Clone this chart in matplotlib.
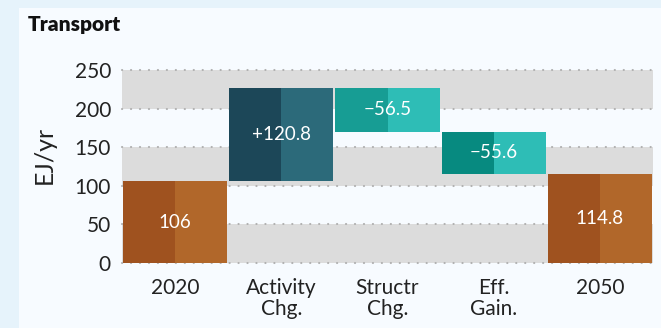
import matplotlib
matplotlib.use("Agg")
import matplotlib.pyplot as plt

categories = ["2020", "Activity\nChg.", "Structr\nChg.", "Eff.\nGain.", "2050"]
starts = [0, 106.0, 226.8, 170.3, 0]
ends = [106.0, 226.8, 170.3, 114.7, 114.8]
labels = ["106", "+120.8", "\u221256.5", "\u221255.6", "114.8"]
dark_colors = ["#9f521f", "#1c4758", "#179d94", "#078a80", "#9f521f"]
light_colors = ["#b1672a", "#2c6a7a", "#2ebdb6", "#2ebdb6", "#b1672a"]
yticks = [0, 50, 100, 150, 200, 250]

plt.rcParams['font.family'] = ['Lato', 'DejaVu Sans']

W, H = 661, 328
fig = plt.figure(figsize=(W / 100, H / 100), dpi=100)
fig.patch.set_facecolor("#e6f3fb")

bg = fig.add_axes([19 / W, 0, 1 - 19 / W, 1 - 8 / H])
bg.set_facecolor("#f7fbff")
bg.set_xticks([]); bg.set_yticks([])
for sp in bg.spines.values():
    sp.set_visible(False)
bg.set_zorder(0)

ax = fig.add_axes([122 / W, 1 - 263 / H, (653 - 122) / W, (263 - 70) / H])
ax.set_zorder(1)
ax.set_facecolor("none")
ax.set_xlim(-0.5, len(categories) - 0.5)
ax.set_ylim(0, 250)

for lo in (0, 100, 200):
    ax.axhspan(lo, lo + 50, color="#dcdcdc", zorder=0, lw=0)
for y in yticks:
    ax.axhline(y, color="#b0b0b0", lw=1.5, ls=(0, (0.1, 4.2)), dash_capstyle="round",
               zorder=1, clip_on=False)

half = 0.49
for i, (s, e) in enumerate(zip(starts, ends)):
    lo, hi = min(s, e), max(s, e)
    ax.bar(i - half, hi - lo, width=half, bottom=lo, align="edge",
           color=dark_colors[i], lw=0, zorder=2)
    ax.bar(i, hi - lo, width=half, bottom=lo, align="edge",
           color=light_colors[i], lw=0, zorder=2)
    ax.text(i, (lo + hi) / 2, labels[i], color="white", ha="center", va="center",
            fontsize=13.5, zorder=3)

ax.set_xticks(range(len(categories)))
ax.set_xticklabels(categories, fontsize=15, color="#222222", linespacing=1.05)
ax.set_yticks(yticks)
ax.set_yticklabels([str(v) for v in yticks], fontsize=15, color="#222222")
ax.tick_params(length=0)
ax.tick_params(axis="x", pad=11)
ax.tick_params(axis="y", pad=8)
for sp in ax.spines.values():
    sp.set_visible(False)

ax.set_ylabel("EJ/yr", fontsize=18, color="#222222")
ax.yaxis.set_label_coords((56 - 122) / 531, 0.56)
fig.text(28 / W, 1 - 25 / H, "Transport", fontsize=15, fontweight="heavy",
         ha="left", va="center", color="#111111")

fig.savefig("out.png", dpi=100, facecolor=fig.get_facecolor())
